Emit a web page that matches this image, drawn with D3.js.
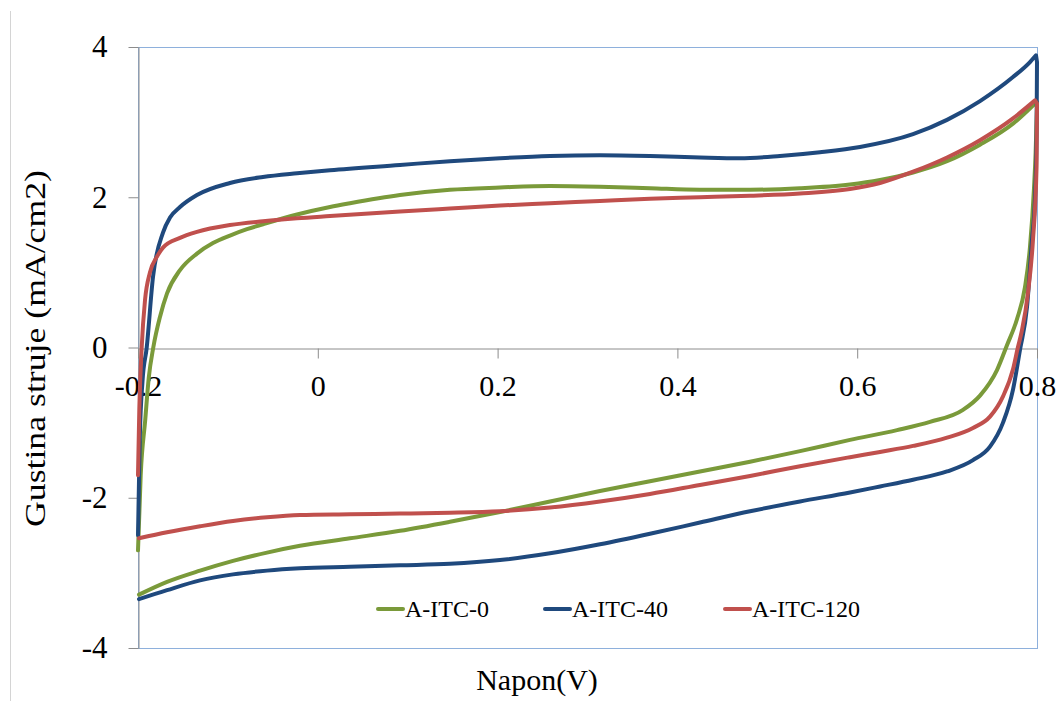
<!DOCTYPE html>
<html>
<head>
<meta charset="utf-8">
<script src="https://cdn.jsdelivr.net/npm/d3@7"></script>
<style>
  html, body { margin: 0; padding: 0; background: #fff; }
  svg { display: block; }
  text { font-family: "Liberation Serif", "Times New Roman", serif; fill: #000; }
</style>
</head>
<body>
<svg id="chart" width="1058" height="701"></svg>
<script>
// Cyclic voltammograms: [potential (V), current density (mA/cm2)]
// Anodic (forward) sweep -0.2 -> 0.8 V, then cathodic (reverse) sweep back.
const itc0Forward = [
  [-0.2, -2.7], [-0.197, -1.7], [-0.192, -0.97], [-0.188, -0.4], [-0.183, 0.0],
  [-0.1755, 0.41], [-0.1677, 0.72], [-0.1533, 1.03], [-0.1344, 1.25], [-0.1166, 1.39],
  [-0.0977, 1.49], [-0.0788, 1.575], [-0.061, 1.64], [-0.0231, 1.77], [0.0136, 1.87],
  [0.0358, 1.92], [0.0914, 2.03], [0.147, 2.1], [0.2027, 2.13], [0.2583, 2.15],
  [0.3139, 2.14], [0.3695, 2.12], [0.4251, 2.1], [0.4808, 2.1], [0.5364, 2.12],
  [0.592, 2.17], [0.6254, 2.23], [0.6621, 2.33], [0.6999, 2.48], [0.7366, 2.7],
  [0.7733, 2.98], [0.7955, 3.22], [0.8, 3.27]
];
const itc0Reverse = [
  [0.8, 3.2], [0.7985, 2.6], [0.7967, 2.13], [0.7922, 1.34], [0.7866, 0.8],
  [0.7778, 0.38], [0.7666, 0.03], [0.7555, -0.3], [0.7366, -0.64], [0.7177, -0.83],
  [0.681, -0.99], [0.6443, -1.1], [0.592, -1.23], [0.5364, -1.38], [0.4808, -1.52],
  [0.4251, -1.65], [0.3695, -1.78], [0.3139, -1.91], [0.2583, -2.05], [0.2027, -2.19],
  [0.147, -2.32], [0.0914, -2.44], [0.0358, -2.54], [-0.0198, -2.64], [-0.0565, -2.73],
  [-0.0943, -2.84], [-0.131, -2.97], [-0.1677, -3.12], [-0.1989, -3.29]
];

const itc40Forward = [
  [-0.2, -2.5], [-0.198, -1.2], [-0.195, -0.45], [-0.1903, 0.0], [-0.1833, 0.94],
  [-0.1722, 1.53], [-0.1644, 1.73], [-0.1533, 1.87], [-0.1344, 2.03], [-0.0977, 2.19],
  [-0.061, 2.27], [-0.0231, 2.32], [0.0136, 2.36], [0.0914, 2.43], [0.147, 2.48],
  [0.2027, 2.52], [0.2583, 2.55], [0.3139, 2.56], [0.3695, 2.55], [0.4251, 2.53],
  [0.4696, 2.52], [0.5141, 2.55], [0.5586, 2.6], [0.6031, 2.67], [0.6621, 2.84],
  [0.6999, 3.03], [0.7366, 3.28], [0.7733, 3.6], [0.7922, 3.8], [0.7989, 3.89]
];
const itc40Reverse = [
  [0.8, 3.8], [0.7995, 2.8], [0.7978, 2.0], [0.7944, 1.43], [0.7889, 0.54],
  [0.7811, -0.03], [0.7733, -0.56], [0.7622, -1.0], [0.7477, -1.32], [0.7288, -1.5],
  [0.6999, -1.65], [0.6621, -1.76], [0.6254, -1.85], [0.592, -1.93], [0.5364, -2.05],
  [0.4808, -2.18], [0.4251, -2.33], [0.3695, -2.48], [0.3139, -2.62], [0.2583, -2.74],
  [0.2027, -2.83], [0.147, -2.88], [0.0914, -2.9], [0.0358, -2.92], [-0.0198, -2.94],
  [-0.0565, -2.97], [-0.0943, -3.02], [-0.131, -3.1], [-0.1677, -3.23], [-0.1989, -3.35]
];

const itc120Forward = [
  [-0.2, -1.7], [-0.1985, -0.8], [-0.1959, 0.0], [-0.1922, 0.63], [-0.1867, 1.0],
  [-0.1789, 1.21], [-0.1722, 1.33], [-0.1533, 1.46], [-0.1344, 1.54], [-0.0977, 1.63],
  [-0.061, 1.68], [-0.0231, 1.72], [0.0136, 1.75], [0.0914, 1.81],
  [0.147, 1.85], [0.2027, 1.89], [0.2583, 1.92], [0.3139, 1.95], [0.3695, 1.98],
  [0.4251, 2.0], [0.4808, 2.02], [0.5364, 2.05], [0.592, 2.11], [0.6254, 2.19],
  [0.6621, 2.34], [0.6999, 2.53], [0.7366, 2.76], [0.7733, 3.05], [0.7978, 3.29]
];
const itc120Reverse = [
  [0.8, 3.25], [0.7995, 2.4], [0.7955, 1.43], [0.79, 0.73], [0.7833, 0.23],
  [0.7787, 0.0], [0.7733, -0.29], [0.7622, -0.65], [0.7477, -0.92], [0.7288, -1.07],
  [0.6999, -1.2], [0.6621, -1.31], [0.6254, -1.39], [0.592, -1.46], [0.5364, -1.58],
  [0.4808, -1.71], [0.4251, -1.83], [0.3695, -1.95], [0.3139, -2.05], [0.2583, -2.13],
  [0.2027, -2.18], [0.147, -2.2], [0.0914, -2.21], [0.0358, -2.22], [-0.0198, -2.23],
  [-0.0565, -2.26], [-0.0943, -2.31], [-0.131, -2.38], [-0.1677, -2.46], [-0.1989, -2.54]
];

const seriesNames = ["A-ITC-0", "A-ITC-40", "A-ITC-120"];
const seriesColors = ["#7a9a3a", "#1f497d", "#c0504d"];
const xTickValues = [-0.2, 0, 0.2, 0.4, 0.6, 0.8];
const xTickLabels = ["-0.2", "0", "0.2", "0.4", "0.6", "0.8"];
const yTickValues = [-4, -2, 0, 2, 4];
const yTickLabels = ["-4", "-2", "0", "2", "4"];

const sweeps = [
  [itc0Forward, itc0Reverse],
  [itc40Forward, itc40Reverse],
  [itc120Forward, itc120Reverse]
];

const svg = d3.select("#chart");

// Plot area
const plotLeft = 138, plotRight = 1037, plotTop = 47, plotBottom = 648;
const x = d3.scaleLinear().domain([-0.2, 0.8]).range([plotLeft, plotRight]);
const y = d3.scaleLinear().domain([-4, 4]).range([plotBottom, plotTop]);

// Chart area edge on the left
svg.append("line")
  .attr("x1", 10.5).attr("x2", 10.5).attr("y1", 11).attr("y2", 701)
  .attr("stroke", "#d4d4d4").attr("stroke-width", 1);

// Plot area frame
svg.append("rect")
  .attr("x", plotLeft + 0.5).attr("y", plotTop + 0.5)
  .attr("width", plotRight - plotLeft).attr("height", plotBottom - plotTop)
  .attr("fill", "none").attr("stroke", "#8eb0dc").attr("stroke-width", 1);

// Y axis
const yAxis = svg.append("g")
  .attr("transform", `translate(${plotLeft + 0.5},0)`)
  .call(d3.axisLeft(y).tickValues(yTickValues)
    .tickFormat((d, i) => yTickLabels[i]).tickSize(10).tickSizeOuter(0));
yAxis.select(".domain").attr("stroke", "#8c8c8c");
yAxis.selectAll(".tick line").attr("stroke", "#8c8c8c");
yAxis.selectAll("text")
  .attr("x", -31)
  .style("font-size", "31px")
  .style("font-family", "'Liberation Serif', 'Times New Roman', serif");

// X axis crossing at zero current
const xAxis = svg.append("g")
  .attr("transform", `translate(0,${Math.round(y(0)) + 0.5})`)
  .call(d3.axisBottom(x).tickValues(xTickValues)
    .tickFormat((d, i) => xTickLabels[i]).tickSize(10).tickSizeOuter(0));
xAxis.select(".domain").attr("stroke", "#8c8c8c");
xAxis.selectAll(".tick line").attr("stroke", "#8c8c8c");
xAxis.selectAll("text")
  .attr("y", 47).attr("dy", 0)
  .style("font-size", "30px")
  .style("font-family", "'Liberation Serif', 'Times New Roman', serif");

// Voltammogram loops: each sweep is monotone in potential, so a monotone
// curve keeps the steep turns at the vertex potentials free of overshoot.
const line = d3.line()
  .x(d => x(d[0]))
  .y(d => y(d[1]))
  .curve(d3.curveMonotoneX);

const loopPath = ([fwd, rev]) => line(fwd) + line(rev).replace(/^M/, "L");

svg.append("g").selectAll("path")
  .data(sweeps)
  .join("path")
  .attr("d", loopPath)
  .attr("fill", "none")
  .attr("stroke", (d, i) => seriesColors[i])
  .attr("stroke-width", 4)
  .attr("stroke-linejoin", "round")
  .attr("stroke-linecap", "round");

// Legend
const legendX = [378, 545, 725];
const legend = svg.append("g");
seriesNames.forEach((name, i) => {
  legend.append("line")
    .attr("x1", legendX[i]).attr("x2", legendX[i] + 25)
    .attr("y1", 609).attr("y2", 609)
    .attr("stroke", seriesColors[i]).attr("stroke-width", 4)
    .attr("stroke-linecap", "round");
  legend.append("text")
    .attr("x", legendX[i] + 27).attr("y", 617)
    .style("font-size", "24px")
    .text(name);
});

// Axis titles
svg.append("text")
  .attr("x", 537).attr("y", 690)
  .attr("text-anchor", "middle")
  .style("font-size", "30px")
  .text("Napon(V)");

svg.append("text")
  .attr("transform", "translate(45,348.5) rotate(-90)")
  .attr("text-anchor", "middle")
  .attr("textLength", 357)
  .attr("lengthAdjust", "spacingAndGlyphs")
  .style("font-size", "30px")
  .text("Gustina struje (mA/cm2)");
</script>
</body>
</html>
